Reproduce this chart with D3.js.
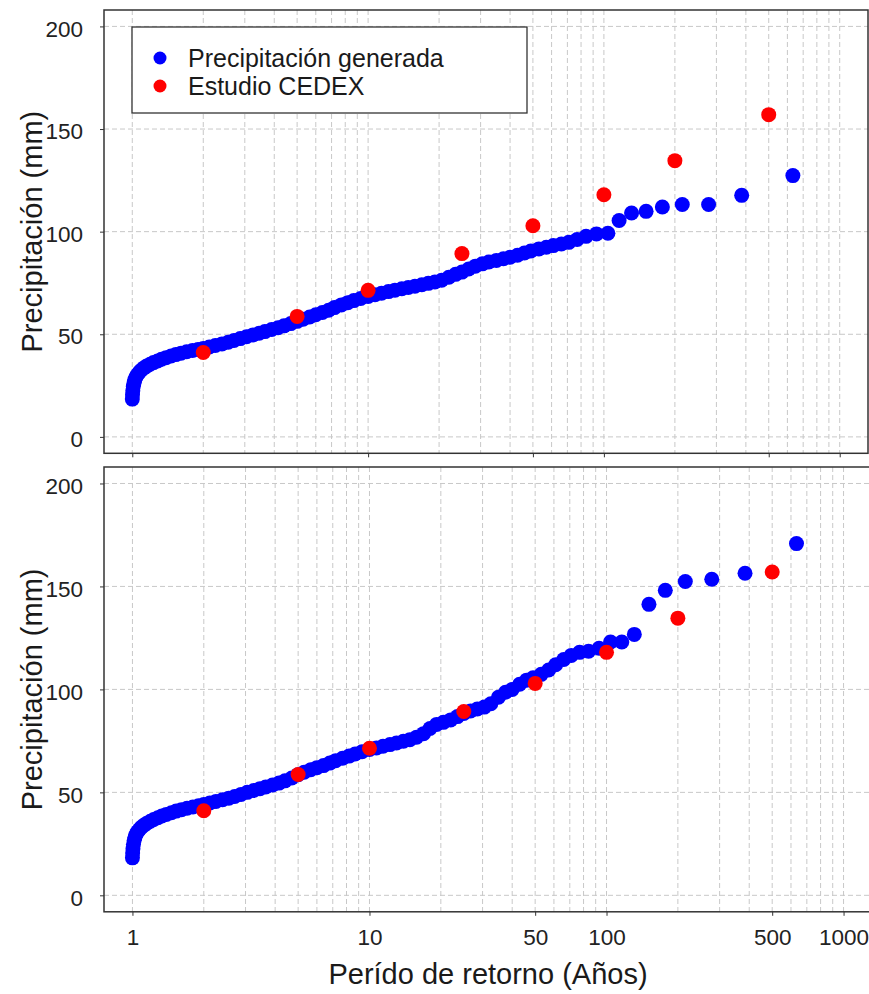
<!DOCTYPE html>
<html>
<head>
<meta charset="utf-8">
<script src="https://cdn.jsdelivr.net/npm/d3@7"></script>
<style>
  body { margin: 0; background: #fff; }
  svg { display: block; font-family: Arial, "Liberation Sans", sans-serif; }
  .grid line { stroke: #c8c8c8; stroke-width: 1; stroke-dasharray: 5,3; }
  .frame { fill: none; stroke: #333; stroke-width: 1.5; }
  .axis text { fill: #222; font-size: 22.5px; }
</style>
</head>
<body>
<svg id="chart" width="869" height="994"></svg>
<script>
// return periods (years) of the generated precipitation, same for both panels
const returnPeriods = [
  1.000, 1.002, 1.005, 1.01, 1.017, 1.025, 1.035, 1.05, 1.07, 1.09,
  1.12, 1.15, 1.19, 1.23, 1.28, 1.33, 1.39, 1.46, 1.53, 1.61,
  1.7, 1.8, 1.9, 2.0, 2.12, 2.25, 2.4, 2.55, 2.7, 2.87,
  3.05, 3.25, 3.45, 3.65, 3.9, 4.15, 4.4, 4.7, 5.0, 5.3,
  5.65, 6.0, 6.4, 6.8, 7.2, 7.7, 8.2, 8.7, 9.3, 10,
  10.7, 11.4, 12.2, 13, 13.9, 14.8, 15.8, 16.9, 18, 19.2,
  20.5, 22, 23.5, 25, 26.7, 28.5, 30.5, 32.5, 35, 37.5,
  40, 43, 46, 49, 53, 57, 61, 66, 71, 77,
  84, 93, 104, 116, 131, 151, 177, 215, 278, 384,
  633
];

// upper panel, generated precipitation (mm)
const generatedTop = [
  18.4, 20.5, 22.5, 24.5, 26.3, 27.8, 29.0, 30.3, 31.5, 32.5,
  33.6, 34.5, 35.4, 36.2, 37.0, 37.8, 38.6, 39.4, 40.1, 40.8,
  41.5, 42.1, 42.6, 43.1, 43.8, 44.5, 45.3, 46.1, 47.0, 47.9,
  48.8, 49.7, 50.5, 51.3, 52.3, 53.2, 54.1, 55.2, 56.3, 57.3,
  58.4, 59.5, 60.6, 61.7, 63.0, 64.3, 65.4, 66.4, 67.4, 68.4,
  69.3, 70.0, 70.8, 71.5, 72.2, 72.8, 73.4, 74.1, 74.8, 75.5,
  76.3, 77.8, 79.2, 80.3, 81.8, 83.2, 84.3, 85.2, 86.0, 86.8,
  87.5, 88.5, 89.6, 90.6, 91.6, 92.4, 93.2, 94.0, 94.8, 96.2,
  97.7, 98.9, 99.2, 105.4, 109.1, 109.9, 112.0, 113.2, 113.2, 117.7,
  127.3
];

// lower panel, generated precipitation (mm)
const generatedBottom = [
  18.2, 20.5, 22.6, 24.8, 26.7, 28.2, 29.5, 30.8, 32.0, 33.0,
  34.1, 35.0, 36.0, 36.8, 37.7, 38.5, 39.3, 40.1, 40.9, 41.6,
  42.3, 42.9, 43.5, 44.1, 44.8, 45.6, 46.4, 47.2, 48.0, 49.0,
  50.0, 50.9, 51.8, 52.6, 53.6, 54.5, 55.6, 57.0, 58.6, 59.8,
  61.0, 62.0, 63.0, 64.2, 65.4, 66.6, 67.6, 68.6, 69.7, 70.8,
  71.6, 72.4, 73.2, 74.0, 74.8, 75.6, 76.8, 78.5, 81.0, 83.0,
  84.0, 85.2, 86.8, 88.3, 89.5, 90.5, 91.4, 93.0, 96.2, 98.6,
  100.0, 102.5, 104.5, 105.6, 107.3, 109.4, 112.0, 114.5, 116.5, 118.0,
  118.5, 120.0, 123.0, 123.0, 126.7, 141.3, 148.1, 152.4, 153.5, 156.4,
  170.8
];

// CEDEX study
const cedexPeriods = [2, 5, 10, 25, 50, 100, 200, 500];
const cedexValues = [41.1, 58.7, 71.4, 89.3, 102.9, 118, 134.6, 157];

const xTickValues = [1, 10, 50, 100, 500, 1000];
const yTickValues = [0, 50, 100, 150, 200];

const seriesNames = ['Precipitación generada', 'Estudio CEDEX'];
const seriesColors = ['#0000ff', '#ff0000'];

const svg = d3.select('#chart');

const panels = [
  {values: generatedTop, top: 10, bottom: 453.3, right: 868, labels: false},
  {values: generatedBottom, top: 467, bottom: 911.8, right: 872, labels: true}
];

const left = 104;

panels.forEach(p => {
  let x = d3.scaleLog()
    .domain([Math.pow(10, -0.12), Math.pow(10, 3.12)])
    .range([left, p.right]);
  let y = d3.scaleLinear()
    .domain([-8, 208])
    .range([p.bottom, p.top]);

  let g = svg.append('g');

  // grid
  let grid = g.append('g').attr('class', 'grid');
  grid.selectAll('.vx').data(x.ticks().filter(t => t >= 1))
    .enter().append('line')
    .attr('x1', d => x(d)).attr('x2', d => x(d))
    .attr('y1', p.top).attr('y2', p.bottom);
  grid.selectAll('.hy').data(yTickValues)
    .enter().append('line')
    .attr('x1', left).attr('x2', p.right)
    .attr('y1', d => y(d)).attr('y2', d => y(d));

  // axes
  let xAxis = d3.axisBottom(x)
    .tickValues(xTickValues)
    .tickSize(4)
    .tickPadding(13)
    .tickFormat(p.labels ? d3.format('d') : '');
  g.append('g')
    .attr('class', 'axis axis--x')
    .attr('transform', `translate(0, ${p.bottom})`)
    .call(xAxis)
    .call(a => a.select('.domain').remove())
    .call(a => a.selectAll('line').attr('stroke', '#333'))
    .call(a => a.selectAll('text').attr('dy', '0.71em'));

  let yAxis = d3.axisLeft(y)
    .tickValues(yTickValues)
    .tickSize(4)
    .tickPadding(17);
  g.append('g')
    .attr('class', 'axis axis--y')
    .attr('transform', `translate(${left}, 0)`)
    .call(yAxis)
    .call(a => a.select('.domain').remove())
    .call(a => a.selectAll('line').attr('stroke', '#333'))
    .call(a => a.selectAll('text').attr('dy', '0.43em'));

  // points
  g.append('g').selectAll('circle')
    .data(returnPeriods.map((t, i) => [t, p.values[i]]))
    .enter().append('circle')
    .attr('cx', d => x(d[0]))
    .attr('cy', d => y(d[1]))
    .attr('r', 7.5)
    .attr('fill', seriesColors[0]);

  g.append('g').selectAll('circle')
    .data(cedexPeriods.map((t, i) => [t, cedexValues[i]]))
    .enter().append('circle')
    .attr('cx', d => x(d[0]))
    .attr('cy', d => y(d[1]))
    .attr('r', 7.5)
    .attr('fill', seriesColors[1]);

  g.append('rect')
    .attr('class', 'frame')
    .attr('x', left).attr('y', p.top)
    .attr('width', p.right - left).attr('height', p.bottom - p.top);

  g.append('text')
    .attr('transform', `translate(42, ${(p.top + p.bottom) / 2}) rotate(-90)`)
    .attr('text-anchor', 'middle')
    .attr('font-size', 29)
    .attr('fill', '#1a1a1a')
    .text('Precipitación (mm)');
});

// legend
let legend = svg.append('g');
legend.append('rect')
  .attr('x', 132).attr('y', 27)
  .attr('width', 395).attr('height', 86)
  .attr('fill', '#fff')
  .attr('stroke', '#333')
  .attr('stroke-width', 1.3);

let item = legend.selectAll('.item').data(seriesNames)
  .enter().append('g')
  .attr('transform', (d, i) => `translate(160, ${58 + i * 28})`);
item.append('circle')
  .attr('r', 6.5)
  .attr('fill', (d, i) => seriesColors[i]);
item.append('text')
  .attr('x', 28)
  .attr('dy', '0.36em')
  .attr('font-size', 25)
  .attr('fill', '#1a1a1a')
  .text(d => d);

svg.append('text')
  .attr('x', 488).attr('y', 984)
  .attr('text-anchor', 'middle')
  .attr('font-size', 29)
  .attr('fill', '#1a1a1a')
  .text('Perído de retorno (Años)');
</script>
</body>
</html>
